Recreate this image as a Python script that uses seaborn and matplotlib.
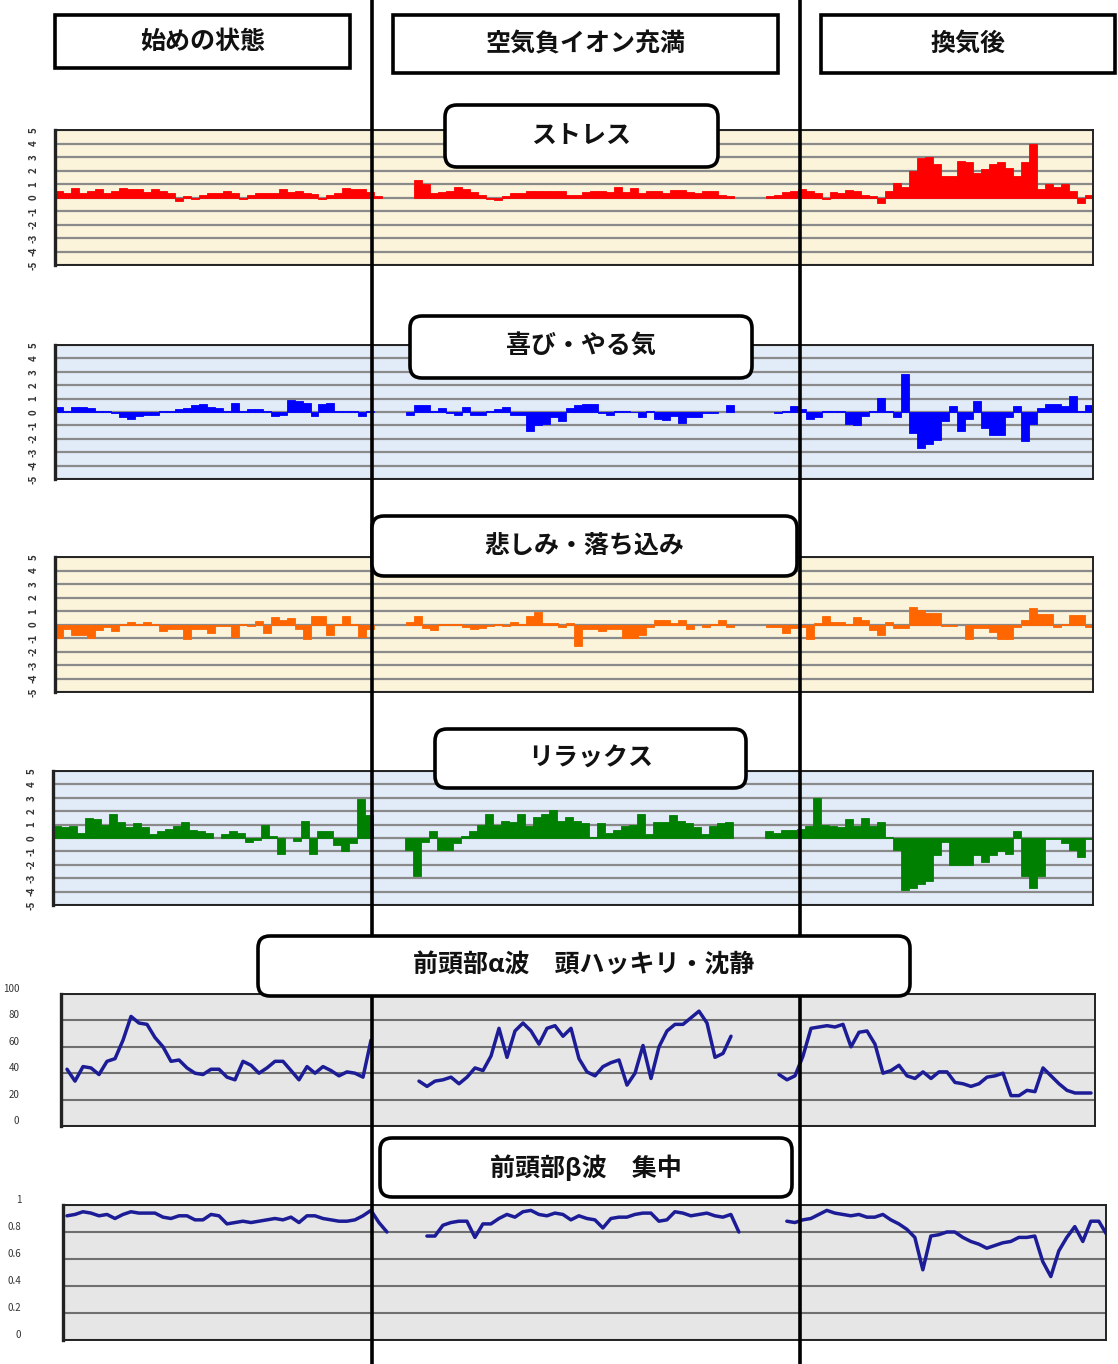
import numpy as np
import pandas as pd
import matplotlib
matplotlib.use("Agg")
import matplotlib.pyplot as plt
import seaborn as sns
from matplotlib.patches import FancyBboxPatch, Rectangle

# phase headers and panel titles
phases = ["始めの状態", "空気負イオン充満", "換気後"]
titles = ["ストレス", "喜び・やる気", "悲しみ・落ち込み", "リラックス",
          "前頭部α波　頭ハッキリ・沈静", "前頭部β波　集中"]

# emotion scores (-5..5), one value per time step, None = no measurement
stress = [0.5, 0.3, 0.7, 0.3, 0.5, 0.6, 0.3, 0.5, 0.7, 0.6,
          0.6, 0.4, 0.6, 0.5, 0.35, -0.25, 0.1, -0.1, 0.2, 0.3,
          0.3, 0.45, 0.3, -0.1, 0.2, 0.3, 0.3, 0.3, 0.6, 0.4,
          0.5, 0.35, 0.25, -0.1, 0.2, 0.35, 0.7, 0.65, 0.6, 0.4,
          0.1, None, None, None, None, 1.3, 1.0, 0.3, 0.4, 0.5,
          0.8, 0.6, 0.4, 0.2, -0.1, -0.2, 0.1, 0.35, 0.35, 0.5,
          0.5, 0.5, 0.5, 0.5, 0.2, 0.2, 0.4, 0.5, 0.5, 0.4,
          0.8, 0.4, 0.7, 0.3, 0.5, 0.5, 0.3, 0.55, 0.55, 0.4,
          0.3, 0.5, 0.5, 0.2, 0.1, None, None, None, None, 0.1,
          0.2, 0.4, 0.5, 0.6, 0.5, 0.3, -0.1, 0.4, 0.3, 0.55,
          0.45, 0.2, 0.1, -0.4, 0.5, 1.1, 0.8, 2.0, 2.9, 3.0,
          2.5, 1.6, 1.6, 2.7, 2.6, 1.8, 2.1, 2.5, 2.6, 2.2,
          1.6, 2.6, 4.0, 0.6, 1.0, 0.8, 1.0, 0.5, -0.4, 0.2]

joy = [0.4, 0.1, 0.35, 0.35, 0.3, 0.05, 0.05, -0.1, -0.4, -0.5,
       -0.3, -0.25, -0.2, 0.05, 0.1, 0.2, 0.3, 0.5, 0.6, 0.4,
       0.3, 0.1, 0.7, 0.05, 0.2, 0.2, 0.1, -0.3, -0.2, 0.9,
       0.8, 0.7, -0.3, 0.6, 0.7, 0.1, 0.05, 0.1, -0.3, 0.05,
       None, None, None, None, -0.2, 0.5, 0.5, 0.05, 0.3, -0.1,
       -0.2, 0.35, -0.2, -0.2, 0.05, 0.25, 0.35, -0.2, -0.2, -1.4,
       -1.0, -0.9, -0.4, -0.7, 0.3, 0.5, 0.6, 0.6, -0.1, -0.2,
       0.05, 0.05, 0.0, -0.35, 0.05, -0.5, -0.6, -0.3, -0.8, -0.4,
       -0.4, -0.1, -0.1, None, 0.5, None, None, None, None, None,
       -0.05, 0.1, 0.45, 0.2, -0.5, -0.35, 0.05, 0.05, 0.05, -0.9,
       -1.0, -0.3, 0.05, 1.05, 0.05, -0.4, 2.8, -1.6, -2.7, -2.4,
       -2.1, -0.7, 0.45, -1.4, -0.5, 0.8, -1.2, -1.7, -1.7, -0.35,
       0.45, -2.2, -0.9, 0.3, 0.6, 0.6, 0.45, 1.2, 0.05, 0.5]

sadness = [-1.0, -0.3, -0.8, -0.8, -1.0, -0.4, -0.15, -0.45, 0.05, 0.2,
           0.05, 0.15, 0.05, -0.45, -0.3, -0.35, -1.1, -0.3, -0.3, -0.6,
           -0.1, -0.1, -0.9, 0.05, -0.1, 0.25, -0.6, 0.55, 0.3, 0.5,
           -0.3, -1.1, 0.65, 0.65, -0.75, 0.05, 0.65, 0.05, -0.9, -0.3,
           None, None, None, None, 0.2, 0.65, -0.25, -0.4, 0.05, 0.05,
           0.05, -0.15, -0.3, -0.25, -0.1, 0.05, -0.1, 0.2, 0.05, 0.65,
           0.9, 0.1, 0.1, -0.2, 0.1, -1.6, -0.35, -0.35, -0.45, -0.3,
           -0.35, -1.0, -1.0, -0.8, -0.15, 0.35, 0.35, 0.1, 0.3, -0.35,
           None, -0.2, 0.05, 0.3, -0.2, None, None, None, None, -0.15,
           -0.15, -0.65, -0.25, -0.2, -1.1, 0.1, 0.6, 0.2, 0.2, 0.05,
           0.55, 0.35, -0.4, -0.75, 0.2, -0.25, -0.25, 1.3, 1.1, 0.85,
           0.85, -0.1, -0.1, None, -1.1, -0.25, -0.25, -0.55, -1.1, -1.1,
           -0.2, 0.35, 1.25, 0.8, 0.8, -0.2, 0.05, 0.7, 0.7, -0.2]

relax = [0.9, 0.8, 0.9, 0.4, 1.5, 1.4, 1.0, 1.8, 1.2, 0.8,
         1.1, 0.8, 0.3, 0.5, 0.7, 0.9, 1.2, 0.6, 0.5, 0.35,
         None, 0.3, 0.55, 0.4, -0.3, -0.15, 1.0, 0.15, -1.2, None,
         -0.2, 1.3, -1.2, 0.5, 0.5, -0.5, -1.0, -0.4, 2.9, 1.7,
         None, None, None, None, -0.9, -2.8, -0.3, 0.5, -0.9, -0.9,
         -0.4, 0.15, 0.5, 1.0, 1.8, 1.0, 1.3, 1.2, 1.8, 0.9,
         1.6, 1.8, 2.1, 1.3, 1.6, 1.3, 1.1, 0.1, 1.1, 0.4,
         0.6, 0.9, 1.0, 1.8, 0.3, 1.2, 1.2, 1.7, 1.3, 1.1,
         0.8, 0.3, 0.9, 1.1, 1.2, None, None, None, None, 0.5,
         0.4, 0.6, 0.6, 0.7, 0.9, 3.0, 1.0, 0.9, 0.8, 1.4,
         0.9, 1.5, 0.9, 1.2, 0.1, -0.9, -3.9, -3.7, -3.4, -3.2,
         -1.3, -0.3, -2.0, -2.0, -2.0, -1.3, -1.8, -1.3, -1.0, -1.2,
         0.5, -2.8, -3.7, -2.8, -0.05, -0.05, -0.4, -0.9, -1.4, -0.1]

# brain waves
alpha = [None, 43, 34, 45, 44, 39, 49, 51, 65, 83,
         78, 77, 67, 60, 49, 50, 44, 40, 39, 43,
         43, 37, 35, 49, 46, 40, 44, 49, 49, 42,
         35, 45, 40, 45, 42, 38, 41, 40, 37, 65,
         None, None, None, None, None, 34, 30, 34, 35, 37,
         32, 37, 44, 42, 53, 74, 52, 72, 78, 72,
         62, 74, 76, 68, 74, 51, 41, 38, 45, 48,
         50, 31, 40, 61, 36, 60, 72, 77, 77, 82,
         87, 78, 52, 55, 68, None, None, None, None, None,
         39, 35, 38, 53, 74, 75, 76, 75, 77, 60,
         71, 72, 62, 40, 42, 46, 38, 36, 41, 36,
         41, 41, 33, 32, 30, 32, 37, 38, 40, 23,
         23, 27, 26, 44, 38, 32, 27, 25, 25, 25]

beta = [None, 0.92, 0.93, 0.95, 0.94, 0.92, 0.93, 0.90, 0.93, 0.95,
        0.94, 0.94, 0.94, 0.91, 0.90, 0.92, 0.92, 0.89, 0.89, 0.93,
        0.92, 0.86, 0.87, 0.88, 0.87, 0.88, 0.89, 0.90, 0.89, 0.91,
        0.87, 0.92, 0.92, 0.90, 0.89, 0.88, 0.88, 0.89, 0.92, 0.96,
        0.87, 0.80, None, None, None, None, 0.77, 0.77, 0.85, 0.87,
        0.88, 0.88, 0.76, 0.86, 0.86, 0.90, 0.93, 0.91, 0.95, 0.96,
        0.93, 0.92, 0.94, 0.93, 0.89, 0.92, 0.90, 0.89, 0.83, 0.90,
        0.91, 0.91, 0.93, 0.94, 0.94, 0.88, 0.89, 0.95, 0.94, 0.92,
        0.93, 0.94, 0.92, 0.91, 0.93, 0.80, None, None, None, None,
        None, 0.88, 0.87, 0.89, 0.90, 0.93, 0.96, 0.94, 0.93, 0.92,
        0.93, 0.91, 0.91, 0.93, 0.89, 0.86, 0.82, 0.76, 0.52, 0.77,
        0.78, 0.80, 0.80, 0.76, 0.73, 0.71, 0.68, 0.70, 0.72, 0.73,
        0.76, 0.76, 0.77, 0.58, 0.47, 0.66, 0.76, 0.84, 0.73, 0.88,
        0.88, 0.78]

bar_ticks = list(range(-5, 6))
alpha_ticks = [0, 20, 40, 60, 80, 100]
beta_ticks = [0, 0.2, 0.4, 0.6, 0.8, 1]
beta_labels = ["0", "0.2", "0.4", "0.6", "0.8", "1"]

sns.set_theme(style="white")
plt.rcParams['font.family'] = ['Noto Sans CJK JP', 'DejaVu Sans']

W, H = 1118, 1364
fig = plt.figure(figsize=(W / 100, H / 100), dpi=100)
fig.patch.set_facecolor("white")

CREAM = "#fbf3da"
ICE = "#e2ecf8"
GREY = "#e6e6e6"
NAVY = "#1c1c96"


def px_axes(x0, y0, x1, y1):
    return fig.add_axes([x0 / W, 1 - y1 / H, (x1 - x0) / W, (y1 - y0) / H])


def frame(ax, bg):
    ax.set_facecolor(bg)
    ax.set_xticks([])
    ax.set_xlabel("")
    ax.set_ylabel("")
    ax.set_axisbelow(True)
    for side, sp in ax.spines.items():
        sp.set_visible(True)
        sp.set_color("#222222")
        sp.set_linewidth(2.4 if side == "left" else 1.4)


def bar_panel(box, values, color, bg):
    ax = px_axes(*box)
    v = np.array(values, dtype=float)
    df = pd.DataFrame({"t": np.arange(len(v)), "v": v}).dropna()
    sns.barplot(data=df, x="t", y="v", native_scale=True, width=1.0,
                color=color, saturation=1, errorbar=None,
                edgecolor=color, linewidth=0.6, ax=ax)
    ax.set_xlim(-0.5, len(v) - 0.5)
    ax.set_ylim(-5, 5)
    frame(ax, bg)
    ax.set_yticks(bar_ticks)
    ax.set_yticklabels([str(t) for t in bar_ticks], rotation=90,
                       fontsize=7, fontweight="bold", color="#333333",
                       va="center")
    ax.tick_params(axis="y", length=3, direction="in", pad=12, color="#222222")
    ax.grid(axis="y", color="#8a8a8a", lw=1.6)
    return ax


def line_panel(box, values, ylim, ticks, labels, xmin, xmax):
    ax = px_axes(*box)
    v = np.array(values, dtype=float)
    df = pd.DataFrame({"t": np.arange(len(v)), "v": v})
    df["seg"] = df["v"].isna().cumsum()
    df = df.dropna()
    sns.lineplot(data=df, x="t", y="v", units="seg", estimator=None,
                 color=NAVY, lw=2.5, ax=ax)
    ax.set_xlim(xmin, xmax)
    ax.set_ylim(*ylim)
    frame(ax, bg=GREY)
    ax.set_yticks(ticks)
    ax.set_yticklabels(labels, fontsize=7, color="#333333", va="bottom")
    ax.tick_params(axis="y", length=0, pad=30)
    ax.grid(axis="y", color="#6f6f6f", lw=1.5)
    return ax


bar_panel((55, 130, 1093, 265), stress, "#ff0000", CREAM)
bar_panel((55, 345, 1093, 479), joy, "#0000ff", ICE)
bar_panel((55, 557, 1093, 692), sadness, "#ff6600", CREAM)
bar_panel((53, 771, 1093, 905), relax, "#008000", ICE)
line_panel((61, 994, 1095, 1126), alpha, (0, 100), alpha_ticks,
           [str(t) for t in alpha_ticks], 0.25, 129.5)
line_panel((63, 1205, 1106, 1340), beta, (0, 1), beta_ticks, beta_labels,
           0.5, 130.9)

# overlay: phase separators, header boxes and panel title boxes
ov = fig.add_axes([0, 0, 1, 1])
ov.set_xlim(0, W)
ov.set_ylim(H, 0)
ov.axis("off")
ov.set_zorder(10)

ov.vlines([372, 800], 0, H, color="black", lw=2.6, zorder=1)

header_boxes = [(55, 15, 350, 68), (393, 15, 778, 73), (821, 15, 1115, 73)]
for (x0, y0, x1, y1), name in zip(header_boxes, phases):
    ov.add_patch(Rectangle((x0, y0), x1 - x0, y1 - y0, facecolor="white",
                           edgecolor="black", lw=2.6, zorder=2))
    ov.text((x0 + x1) / 2, (y0 + y1) / 2, name, ha="center", va="center",
            fontsize=18, fontweight="bold", color="#111111", zorder=3)

title_boxes = [(445, 105, 718, 167), (410, 316, 752, 378), (372, 516, 797, 576),
               (435, 729, 746, 788), (258, 936, 910, 996), (380, 1138, 792, 1197)]
for (x0, y0, x1, y1), name in zip(title_boxes, titles):
    ov.add_patch(FancyBboxPatch((x0, y0), x1 - x0, y1 - y0,
                                boxstyle="round,pad=0,rounding_size=12",
                                facecolor="white", edgecolor="black",
                                lw=2.6, zorder=2))
    ov.text((x0 + x1) / 2, (y0 + y1) / 2, name, ha="center", va="center",
            fontsize=18, fontweight="bold", color="#111111", zorder=3)

fig.savefig("out.png", dpi=100, facecolor="white")
